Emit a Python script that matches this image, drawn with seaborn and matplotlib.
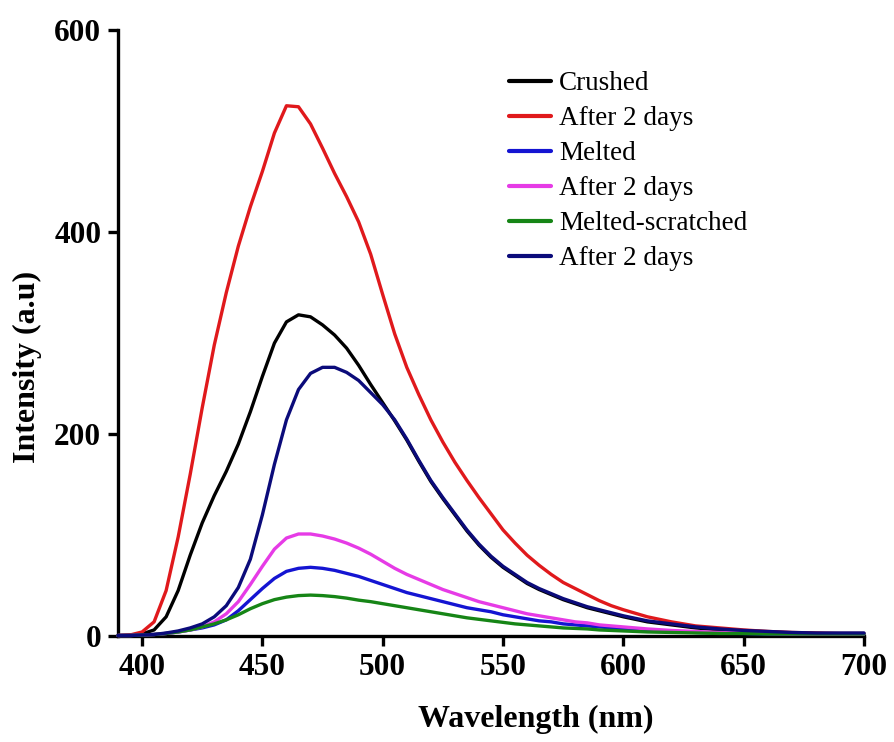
import numpy as np
import pandas as pd
import matplotlib
matplotlib.use("Agg")
import matplotlib.pyplot as plt
import seaborn as sns

# Emission wavelengths (nm)
wavelength = list(range(390, 601, 5)) + list(range(610, 701, 10))

crushed = [0.5, 1, 2, 6, 19, 45, 80, 112, 139, 163, 190, 222, 257, 290, 311, 318,
           316, 308, 298, 285, 268, 249, 231, 213, 194, 173, 153, 136, 120, 104, 90,
           78, 68, 60, 52, 46, 41, 36, 32, 28, 25, 22, 19,
           14, 11, 8, 6, 5, 4, 3, 2.5, 2, 2]

crushed_2d = [0.5, 1, 4, 14, 45, 98, 160, 226, 288, 340, 386, 425, 460, 498, 525, 524,
              507, 483, 458, 435, 410, 378, 338, 299, 266, 239, 214, 192, 172, 154, 137,
              121, 105, 92, 80, 70, 61, 53, 47, 41, 35, 30, 26,
              19, 14, 10, 8, 6, 4.5, 3.5, 3, 2.5, 2.5]

melted = [0.5, 0.5, 1, 1.5, 2.5, 4, 6, 8, 11, 16, 25, 36, 47, 57, 64, 67,
          68, 67, 65, 62, 59, 55, 51, 47, 43, 40, 37, 34, 31, 28, 26,
          24, 21, 19, 17, 15, 14, 12, 11, 10, 9, 8, 7,
          5.5, 4.5, 3.5, 3, 2.5, 2, 2, 2, 2, 2]

melted_2d = [0.5, 0.5, 1, 1.5, 2.5, 4, 6, 9, 14, 22, 34, 51, 69, 86, 97, 101,
             101, 99, 96, 92, 87, 81, 74, 67, 61, 56, 51, 46, 42, 38, 34,
             31, 28, 25, 22, 20, 18, 16, 14, 13, 11, 10, 9,
             7, 5.5, 4.5, 3.5, 3, 2.5, 2, 2, 2, 2]

scratched = [0.5, 0.5, 1, 1.5, 2.5, 4, 6, 9, 12, 16, 21, 27, 32, 36, 38.5, 40,
             40.5, 40, 39, 37.5, 35.5, 34, 32, 30, 28, 26, 24, 22, 20, 18, 16.5,
             15, 13.5, 12, 11, 10, 9, 8, 7.5, 7, 6, 5.5, 5,
             4, 3.5, 3, 2.5, 2.5, 2, 2, 2, 2, 2]

scratched_2d = [0.5, 0.5, 1, 1.5, 3, 5, 8, 12, 19, 30, 48, 76, 120, 170, 214, 244,
                260, 266, 266, 261, 253, 241, 229, 214, 195, 174, 154, 137, 121, 105, 91,
                79, 69, 61, 53, 47, 42, 37, 33, 29, 26, 23, 20,
                15, 12, 9, 7, 5.5, 4.5, 3.5, 3, 3, 3]

series_labels = ["Crushed", "After 2 days", "Melted", "After 2 days",
                 "Melted-scratched", "After 2 days"]
series_values = [crushed, crushed_2d, melted, melted_2d, scratched, scratched_2d]
series_colors = ["#000000", "#e0191c", "#1414d2", "#e63be6", "#168516", "#0b0b7a"]

x_ticks = [400, 450, 500, 550, 600, 650, 700]
y_ticks = [0, 200, 400, 600]

sns.set_theme(style="ticks")
plt.rcParams["font.family"] = ["Liberation Serif", "DejaVu Serif"]
plt.rcParams["text.color"] = "black"
plt.rcParams["axes.labelcolor"] = "black"

fig = plt.figure(figsize=(8.94, 7.42), dpi=100)
ax = fig.add_axes([118 / 894, 1 - 636 / 742, 746 / 894, 606 / 742])

for vals, lab, col in zip(series_values, series_labels, series_colors):
    sns.lineplot(x=wavelength, y=vals, ax=ax, color=col, label=lab,
                 linewidth=2.4, legend=False, clip_on=False, zorder=3)

ax.set_xlim(390, 700)
ax.set_ylim(0, 600)
ax.set_xticks(x_ticks)
ax.set_yticks(y_ticks)
sns.despine(ax=ax)
for side in ("left", "bottom"):
    ax.spines[side].set_linewidth(2.4)
    ax.spines[side].set_color("black")

ax.tick_params(axis="both", direction="out", length=7, width=2.4, pad=5,
               color="black", labelcolor="black", labelsize=22.5)
for lbl in ax.get_xticklabels() + ax.get_yticklabels():
    lbl.set_fontweight("bold")

ax.set_xlabel("Wavelength (nm)", fontsize=23, fontweight="bold", va="center",
              color="black")
ax.set_ylabel("Intensity (a.u)", fontsize=23, fontweight="bold", va="center",
              ha="center", color="black")
ax.xaxis.set_label_coords(0.560, -0.138)
ax.yaxis.set_label_coords(-0.121, 0.444)

handles, labels = ax.get_legend_handles_labels()
leg = ax.legend(handles, labels, loc="upper left",
                bbox_to_anchor=(509 / 894, 1 - 71 / 742), bbox_transform=fig.transFigure,
                frameon=False, fontsize=19.5, handlelength=1.55, handletextpad=0.3,
                labelspacing=0.37, borderpad=0, borderaxespad=0, labelcolor="black")
for line in leg.get_lines():
    line.set_linewidth(3)

fig.savefig("out.png", dpi=100)
